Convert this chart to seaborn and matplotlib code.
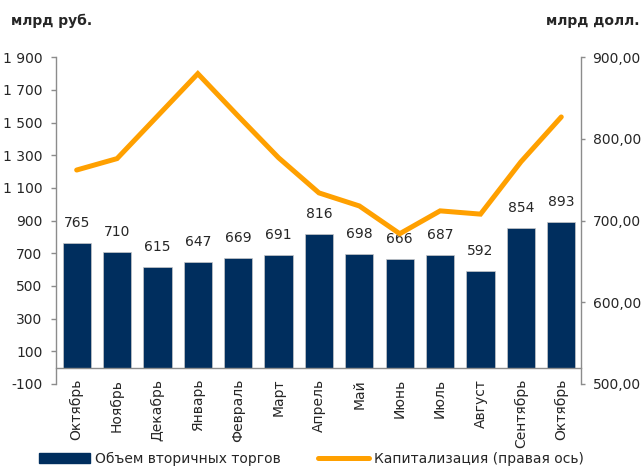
import matplotlib
matplotlib.use("Agg")
import matplotlib.pyplot as plt
from matplotlib.patches import Patch
from matplotlib.lines import Line2D
import numpy as np
import pandas as pd
import seaborn as sns

# data
months = ["Октябрь", "Ноябрь", "Декабрь", "Январь", "Февраль", "Март", "Апрель",
          "Май", "Июнь", "Июль", "Август", "Сентябрь", "Октябрь"]
volume = [765, 710, 615, 647, 669, 691, 816, 698, 666, 687, 592, 854, 893]
capitalization = [762, 776, 828, 880, 828, 777, 734, 718, 684, 712, 708, 772, 827]

left_ticks = list(range(-100, 2000, 200))
right_ticks = [500, 600, 700, 800, 900]

NAVY = "#002E5E"
ORANGE = "#FFA000"
GREY = "#8C8C8C"

sns.set_style("white")
plt.rcParams["font.family"] = ["DejaVu Sans"]
plt.rcParams["font.size"] = 10

df = pd.DataFrame({"pos": np.arange(len(months)), "volume": volume, "cap": capitalization})

fig = plt.figure(figsize=(6.44, 4.68), dpi=100)
ax = fig.add_axes([0.0877, 0.1795, 0.8152, 0.698])

sns.barplot(data=df, x="pos", y="volume", ax=ax, color=NAVY, width=0.7,
            saturation=1, edgecolor="#c8c8c8", linewidth=0.5)
ax.set_xlim(-0.5, len(months) - 0.5)
ax.set_ylim(-100, 1900)
ax.set_yticks(left_ticks)
ax.set_yticklabels([f"{t:,}".replace(",", " ") for t in left_ticks])
ax.set_xlabel("")
ax.set_ylabel("")

# category axis sits at zero, ticks between categories
ax.spines["bottom"].set_position(("data", 0))
ax.set_xticks(np.arange(len(months)))
ax.set_xticklabels(months, rotation=90, va="top", ha="center")
ax.set_xticks(np.arange(len(months) + 1) - 0.5, minor=True)
ax.tick_params(axis="x", which="major", length=0, pad=8)
ax.tick_params(axis="x", which="minor", length=3.6, width=1, color=GREY, direction="out")
ax.tick_params(axis="y", length=3.6, width=1, color=GREY, direction="out", pad=6.5, left=True)
for s in ["top", "right"]:
    ax.spines[s].set_visible(False)
for s in ["left", "bottom"]:
    ax.spines[s].set_color(GREY)
    ax.spines[s].set_linewidth(1)

for i, v in enumerate(volume):
    ax.annotate(str(v), (i, v), xytext=(0, 14.4), textcoords="offset points",
                ha="center", va="center", fontsize=10)

ax2 = ax.twinx()
sns.lineplot(data=df, x="pos", y="cap", ax=ax2, color=ORANGE, linewidth=3.6,
             solid_capstyle="round", solid_joinstyle="miter")
ax2.set_ylim(500, 900)
ax2.set_yticks(right_ticks)
ax2.set_yticklabels([f"{t},00" for t in right_ticks])
ax2.set_ylabel("")
ax2.set_xlabel("")
ax2.set_xlim(-0.5, len(months) - 0.5)
ax2.tick_params(axis="y", length=3, width=1, color=GREY, direction="out", pad=5, right=True)
for s in ["top", "left", "bottom"]:
    ax2.spines[s].set_visible(False)
ax2.spines["right"].set_color(GREY)
ax2.spines["right"].set_linewidth(1)

fig.text(0.017, 0.955, "млрд руб.", fontsize=10, fontweight="bold", va="center", ha="left")
fig.text(0.993, 0.955, "млрд долл.", fontsize=10, fontweight="bold", va="center", ha="right")

handles = [Patch(facecolor=NAVY, edgecolor=NAVY),
           Line2D([0], [0], color=ORANGE, linewidth=3.6)]
fig.legend(handles, ["Объем вторичных торгов", "Капитализация (правая ось)"],
           loc="center left", bbox_to_anchor=(0.049, 0.019), ncol=2, frameon=False,
           handlelength=3.7, handletextpad=0.38, columnspacing=2.65, borderpad=0,
           fontsize=10)

fig.savefig("out.png", dpi=100)
